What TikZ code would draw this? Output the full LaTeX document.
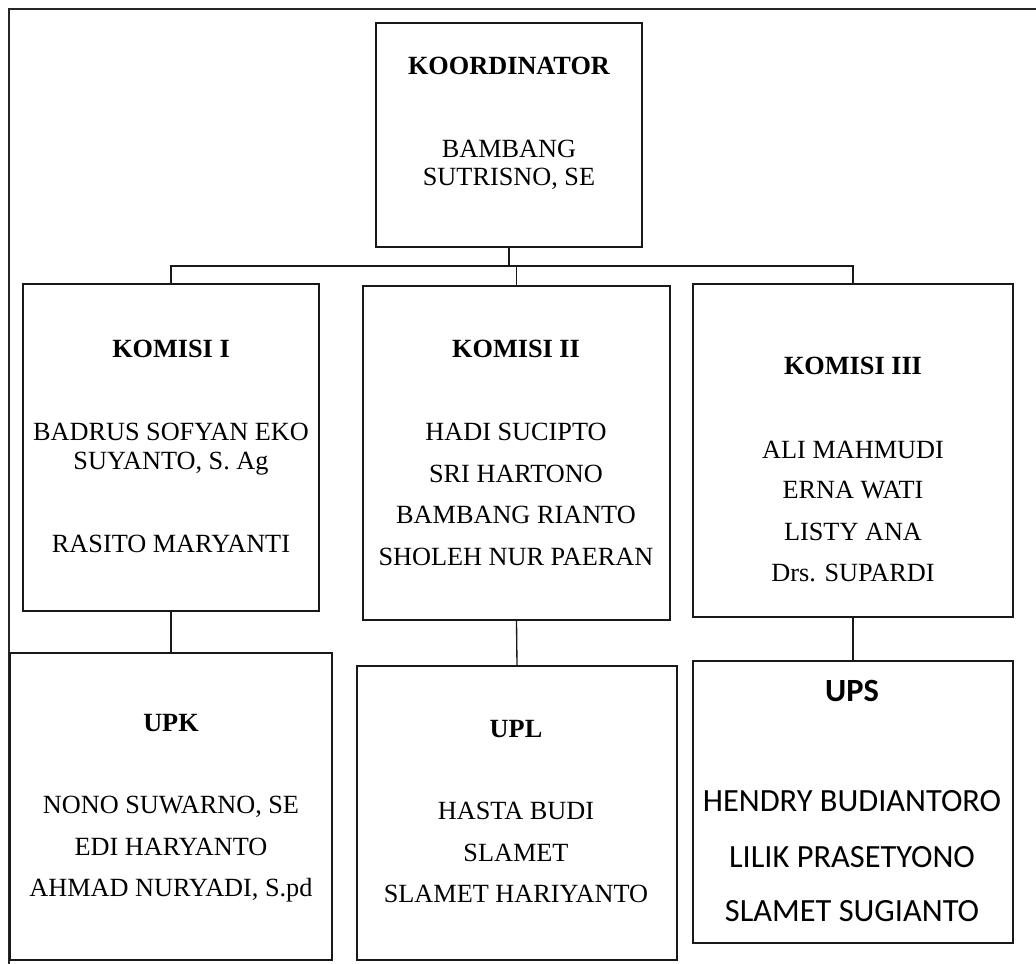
\documentclass[tikz,border=0pt]{standalone}
\usepackage{fontspec}
\setmainfont{Liberation Serif}
\newfontfamily\upsfont{Carlito}
\usetikzlibrary{fit}
\begin{document}
\begin{tikzpicture}[x=0.75pt,y=-0.75pt,
  box/.style={draw=black!90,line width=1pt,inner sep=0pt,fit={#1}},
  nm/.style={anchor=base,inner sep=0pt,font=\fontsize{19.7}{23}\selectfont},
  ttl/.style={anchor=base,inner sep=0pt,font=\fontsize{19.7}{23}\selectfont\bfseries},
  snm/.style={anchor=base,inner sep=0pt,font=\upsfont\fontsize{24.3}{28}\selectfont},
  sttl/.style={anchor=base,inner sep=0pt,font=\upsfont\fontsize{24.3}{28}\selectfont\bfseries},
  conn/.style={draw=black!90,line width=1pt},
  frame/.style={draw=black!85,line width=1.4pt}]
\useasboundingbox (0,0) rectangle (1036,964);
\fill[white] (0,0) rectangle (1036,964);
% outer frame (cropped)
\coordinate (fbl) at (9,964);
\coordinate (ftl) at (9,9);
\coordinate (ftr) at (1036,9);
\draw[frame] (fbl) -- (ftl) -- (ftr);
% boxes
\node[box={(376,23) (642,247)}] (koord) {};
\node[box={(23,284) (319,611)}] (k1) {};
\node[box={(363,286) (670,620)}] (k2) {};
\node[box={(693,284) (1013,617)}] (k3) {};
\node[box={(10,653) (332,960)}] (upk) {};
\node[box={(357,666) (677,960)}] (upl) {};
\node[box={(693,661) (1013,943)}] (ups) {};
% connectors
\coordinate (bus) at (509,266);
\draw[conn] (k1.north) -- (k1.north |- bus) -| (k3.north);
\draw[conn] (koord.south) -- (koord.south |- bus) -- (k2.north |- bus) -- (k2.north);
\draw[conn] (k1.south) -- (upk.north);
\draw[conn] (k2.south) -- (upl.north);
\draw[conn] (k3.south) -- (ups.north);
% texts: koordinator
\node[ttl] (t0) at (509,74) {KOORDINATOR};
\node[nm] (t0a) at (509,157) {BAMBANG};
\node[nm] (t0b) at (509,185) {SUTRISNO, SE};
% komisi I
\node[ttl] (t1) at (171,357) {KOMISI I};
\node[nm] (t1a) at (171,440) {BADRUS SOFYAN EKO};
\node[nm] (t1b) at (171,469) {SUYANTO, S. Ag};
\node[nm] (t1c) at (171,552) {RASITO MARYANTI};
% komisi II
\node[ttl] (t2) at (516,357) {KOMISI II};
\node[nm] (t2a) at (516,440) {HADI SUCIPTO};
\node[nm] (t2b) at (516,482) {SRI HARTONO};
\node[nm] (t2c) at (516,523) {BAMBANG RIANTO};
\node[nm] (t2d) at (516,565) {SHOLEH NUR PAERAN};
% komisi III
\node[ttl] (t3) at (853,374) {KOMISI III};
\node[nm] (t3a) at (853,458) {ALI MAHMUDI};
\node[nm] (t3b) at (853,498) {ERNA WATI};
\node[nm] (t3c) at (853,540) {LISTY ANA};
\node[nm] (t3d) at (853,581) {Drs. SUPARDI};
% UPK
\node[ttl] (t4) at (171,731) {UPK};
\node[nm] (t4a) at (171,813) {NONO SUWARNO, SE};
\node[nm] (t4b) at (171,855) {EDI HARYANTO};
\node[nm] (t4c) at (171,896) {AHMAD NURYADI, S.pd};
% UPL
\node[ttl] (t5) at (516,737) {UPL};
\node[nm] (t5a) at (516,819) {HASTA BUDI};
\node[nm] (t5b) at (516,861) {SLAMET};
\node[nm] (t5c) at (516,902) {SLAMET HARIYANTO};
% UPS
\node[sttl] (t6) at (852,701) {UPS};
\node[snm] (t6a) at (852,811) {HENDRY BUDIANTORO};
\node[snm] (t6b) at (852,867) {LILIK PRASETYONO};
\node[snm] (t6c) at (852,921) {SLAMET SUGIANTO};
\end{tikzpicture}
\end{document}
